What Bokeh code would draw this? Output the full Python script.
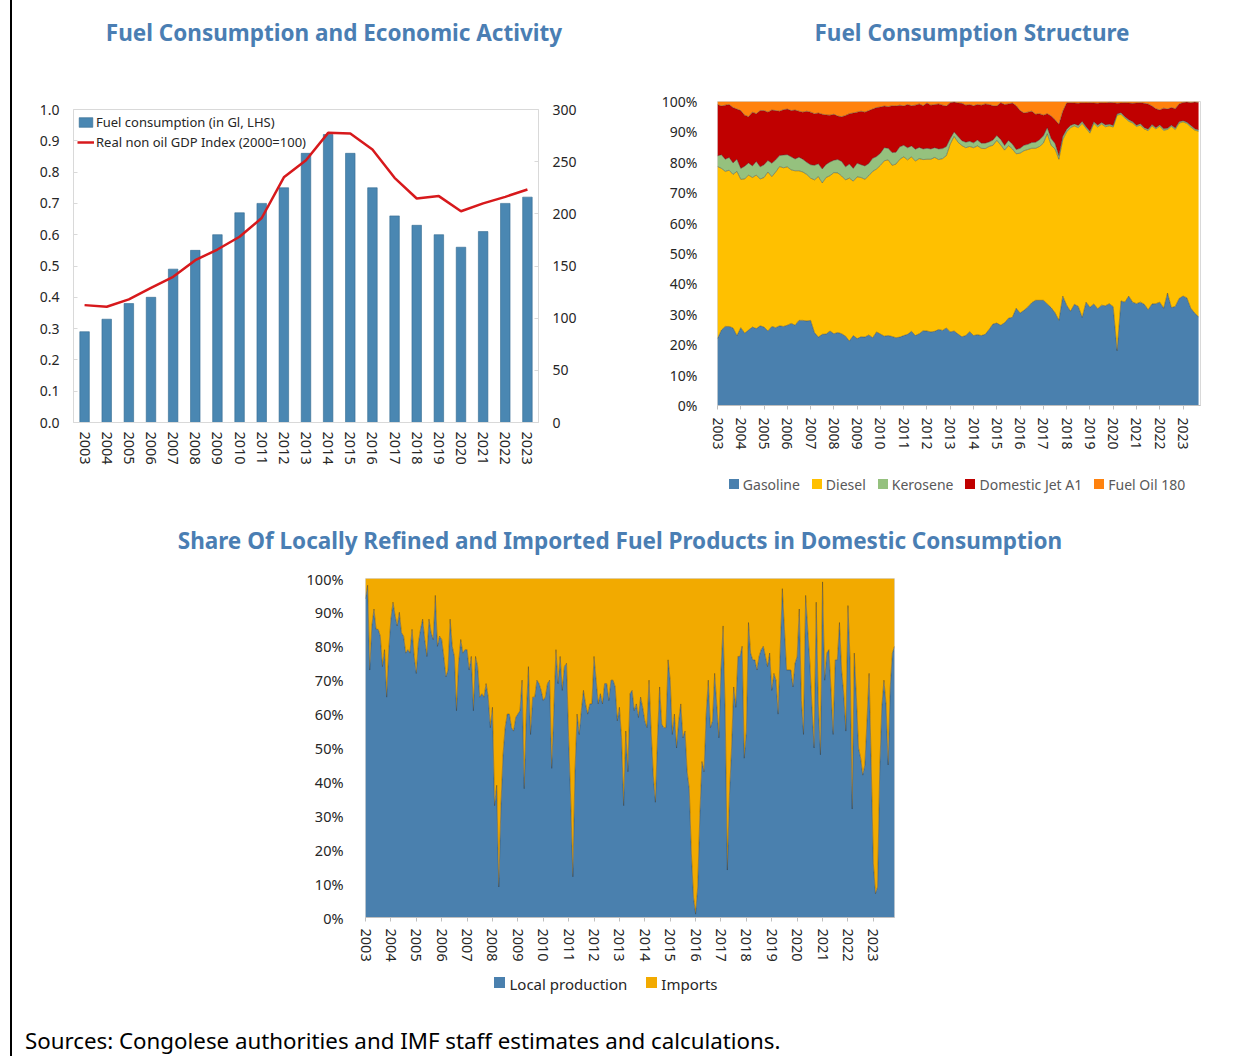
from bokeh.plotting import figure
from bokeh.models import (Range1d, LinearAxis, FixedTicker, Legend, LegendItem, Div, Spacer,
                          ColumnDataSource, PrintfTickFormatter)
from bokeh.layouts import row, column
from bokeh.embed import file_html
from bokeh.resources import INLINE

# ---------------- data: chart 1 (annual) ----------------
years = [str(y) for y in range(2003, 2024)]
fuel_consumption = [0.29, 0.33, 0.38, 0.40, 0.49, 0.55, 0.60, 0.67, 0.70, 0.75, 0.86,
                    0.92, 0.86, 0.75, 0.66, 0.63, 0.60, 0.56, 0.61, 0.70, 0.72]
gdp_index = [112.5, 111, 118, 129, 139.6, 155.6, 165.8, 178, 196, 235, 251.4,
             277.6, 277, 261.7, 234.5, 214.7, 217, 202.5, 210, 216.3, 223.3]
left_ticks = [0.0, 0.1, 0.2, 0.3, 0.4, 0.5, 0.6, 0.7, 0.8, 0.9, 1.0]
right_ticks = [0, 50, 100, 150, 200, 250, 300]

# ---------------- data: chart 2 (every 2 months, Jan 2003 - 2023, % shares) ----------------
structure_months = list(range(0, 249, 2))
gasoline = [22, 24.8, 26, 26, 25.5, 23,
            25.6, 23.8, 24.8, 25.8, 25.3, 26.2,
            25.8, 24.5, 26, 25.6, 26.2, 26,
            26.4, 27, 26.4, 28, 28, 27.8,
            28, 24, 22.5, 23.4, 23.5, 24.5,
            23.6, 24, 23.6, 22.8, 21.2, 23,
            22, 22.6, 22.5, 23.2, 22.3, 24.2,
            23.5, 22.8, 23, 22.7, 22.3, 22.5,
            23, 23.4, 24.4, 23, 23.6, 24.6,
            24.5, 24.2, 24.4, 25, 24.7, 25.5,
            24.2, 24.5, 23.5, 22.6, 23, 24.3,
            23, 23.3, 23, 23.4, 25, 26.8,
            27.1, 26.4, 27.2, 28.7, 29, 32,
            30.4, 31.3, 32.4, 33.8, 34.6, 34.6,
            34.6, 33.4, 32.2, 30.5, 28, 36,
            33, 31, 33.3, 32.6, 29, 34,
            32.3, 33.4, 31.8, 33, 32.8, 33.5,
            32.5, 18, 34.4, 34, 36, 34,
            33.5, 34, 33.3, 31.5, 33.4, 33.5,
            34, 32, 37, 32.2, 32.6, 35.2,
            36, 35.4, 32, 30.4, 29.2]
diesel = [56.6, 53.2, 51, 51.4, 50.5, 54,
          48.8, 50.7, 51, 49.2, 50.5, 48.3,
          49.2, 52.3, 49.3, 51.2, 52.4, 52.2,
          52.1, 50.5, 50.8, 49.2, 48.8, 48.2,
          46.8, 50.2, 52.8, 49.8, 51.5, 51.1,
          53, 52.5, 51.9, 51.4, 53.6, 50.8,
          53.2, 52.4, 51.9, 52.4, 54.7, 53.6,
          55.5, 57.7, 57.8, 56.3, 57.1, 58.5,
          58.8, 57.4, 57.4, 57.4, 57.6, 56.3,
          56.5, 56.8, 57.2, 55.9, 56.5, 56.7,
          61.8, 64, 63.1, 62.9, 61.8, 60.9,
          61.8, 62.1, 61.6, 61.1, 60.2, 58.8,
          60.1, 59.3, 56.8, 56.8, 55.4, 50.8,
          52.6, 52.5, 51.8, 50.8, 50, 50.6,
          51.7, 56, 53.4, 53.9, 53, 51.5,
          57, 60.4, 58.7, 58.8, 63.8, 57.2,
          57.3, 59.4, 59.8, 59.6, 58.9, 58.5,
          59.1, 77.5, 61.4, 60.6, 57.5, 58.9,
          58.3, 58.2, 57.7, 58.9, 58.6, 57.5,
          57.9, 58.5, 53.8, 59.6, 58.2, 57.7,
          57.3, 57.4, 59.6, 60.2, 61]
kerosene = [3.5, 4.5, 4, 4.2, 3.8, 4,
            3.6, 4.2, 4, 3.8, 4.5, 4,
            4.2, 3.8, 4.4, 4, 3.6, 4.2,
            4, 4.3, 3.9, 4.5, 4.2, 4,
            4.4, 4.8, 4.2, 4.6, 4.3, 4.5,
            4.1, 4.4, 4.8, 4.3, 4.6, 4.2,
            4.5, 4.2, 4.4, 4, 4.3, 4.1,
            4, 4.3, 3.8, 4.2, 3.9, 4.1,
            3.8, 4, 3.6, 3.9, 3.7, 3.5,
            3.6, 3.4, 3.2, 3.5, 3.3, 3,
            1.8, 1.5, 1.9, 1.6, 1.8, 1.7,
            1.6, 1.9, 1.7, 1.8, 1.5, 1.7,
            1.6, 1.8, 1.5, 1.7, 1.6, 1.4,
            1.6, 1.8, 1.7, 1.9, 2, 2.2,
            2.4, 2, 2.2, 1.8, 1.2, 1,
            0.8, 0.7, 0.6, 0.7, 0.6, 0.5,
            0.6, 0.5, 0.6, 0.5, 0.6, 0.5,
            0.5, 0.4, 0.5, 0.4, 0.5, 0.4,
            0.4, 0.5, 0.4, 0.5, 0.4, 0.4,
            0.4, 0.5, 0.4, 0.4, 0.5, 0.4,
            0.4, 0.4, 0.5, 0.4, 0.4]
jet_a1 = [16.9, 16, 17.8, 17.4, 18.2, 16.5,
          19, 16.8, 15.2, 17.7, 15.7, 18.5,
          17.8, 15.9, 17.5, 16.2, 14.6, 14.9,
          15, 15.2, 16.1, 15.1, 15.5, 16.8,
          17.3, 17, 16.7, 18, 16.3, 15.4,
          15.1, 14.3, 14.7, 16.9, 16.6, 18.2,
          16.8, 17.6, 17.7, 17.4, 16.2, 16.1,
          15.2, 13.7, 13.7, 15.4, 15.2, 13.7,
          12.9, 14.2, 13.2, 14.5, 14.3, 14.2,
          14.9, 14.4, 14.2, 14.8, 14.3, 13.3,
          11.8, 9.8, 11, 12.3, 12.2, 12.1,
          12.2, 11.7, 12.5, 12.9, 12.3, 11.3,
          9.7, 12.1, 13.5, 12, 13.5, 14.4,
          12.4, 10.6, 10.6, 10.3, 9.2, 8.6,
          6.8, 4.6, 7.4, 7.8, 10.3, 8.3,
          8.7, 7.5, 6.9, 7.3, 6.2, 7.8,
          9.4, 6.2, 7.2, 6.5, 7.2, 7.2,
          7.5, 3.5, 3.2, 4.6, 5.5, 6.1,
          7.3, 6.9, 8, 8.3, 6.1, 6.2,
          4.9, 6.8, 6.3, 5.8, 6.3, 5.9,
          6, 6.6, 7.5, 8.8, 9.1]
fuel_oil = [1, 1.5, 1.2, 1, 2, 2.5,
            3, 4.5, 5, 3.5, 4, 3,
            3, 3.5, 2.8, 3, 3.2, 2.7,
            2.5, 3, 2.8, 3.2, 3.5, 3.2,
            3.5, 4, 3.8, 4.2, 4.4, 4.5,
            4.2, 4.8, 5, 4.6, 4, 3.8,
            3.5, 3.2, 3.5, 3, 2.5, 2,
            1.8, 1.5, 1.7, 1.4, 1.5, 1.2,
            1.5, 1, 1.4, 1.2, 0.8, 1.4,
            0.5, 1.2, 1, 0.8, 1.2, 1.5,
            0.4, 0.2, 0.5, 0.6, 1.2, 1,
            1.4, 1, 1.2, 0.8, 1, 1.4,
            1.5, 0.4, 1, 0.8, 0.5, 1.4,
            3, 3.8, 3.5, 3.2, 4.2, 4,
            4.5, 4, 4.8, 6, 7.5, 3.2,
            0.5, 0.4, 0.5, 0.6, 0.4, 0.5,
            0.4, 0.5, 0.6, 0.4, 0.5, 0.3,
            0.4, 0.6, 0.5, 0.4, 0.5, 0.6,
            0.5, 0.4, 0.6, 0.8, 1.5, 2.4,
            2.8, 2.2, 2.5, 2, 2.4, 0.8,
            0.3, 0.2, 0.4, 0.2, 0.3]

# ---------------- data: chart 3 (monthly Jan 2003 - Nov 2023, % shares) ----------------
local_production = [
    94, 98, 73, 86, 91, 85, 85, 83, 74, 79, 65, 79,
    88, 93, 89, 86, 90, 84, 83, 78, 79, 78, 85, 77,
    72, 81, 85, 88, 82, 77, 88, 84, 82, 95, 80, 83,
    82, 77, 71, 73, 88, 80, 77, 61, 75, 82, 78, 79,
    79, 73, 77, 61, 77, 74, 65, 66, 65, 69, 65, 56,
    62, 33, 39, 9, 33, 48, 56, 60, 60, 56, 55, 59,
    60, 61, 70, 38, 60, 74, 54, 65, 65, 70, 69, 67,
    64, 65, 69, 70, 44, 61, 79, 69, 77, 67, 74, 75,
    53, 34, 12, 43, 60, 54, 61, 67, 63, 60, 63, 63,
    77, 70, 63, 66, 63, 69, 69, 64, 70, 70, 68, 58,
    62, 53, 33, 55, 43, 66, 67, 61, 63, 59, 65, 62,
    58, 56, 70, 55, 42, 34, 53, 68, 57, 56, 56, 76,
    70, 54, 60, 50, 58, 63, 53, 55, 43, 38, 19, 6,
    1, 9, 30, 46, 43, 60, 70, 56, 58, 72, 63, 53,
    73, 86, 60, 14, 36, 50, 68, 62, 77, 77, 80, 47,
    55, 87, 78, 76, 76, 73, 77, 79, 80, 77, 74, 78,
    67, 72, 70, 60, 79, 97, 85, 73, 73, 73, 68, 75,
    77, 91, 64, 54, 95, 85, 75, 62, 50, 93, 63, 48,
    99, 70, 78, 79, 67, 54, 76, 76, 87, 73, 66, 55,
    92, 76, 32, 78, 65, 50, 47, 42, 45, 58, 72, 45,
    16, 7, 9, 43, 62, 70, 63, 45, 68, 78, 80]
imports = [
    6, 2, 27, 14, 9, 15, 15, 17, 26, 21, 35, 21,
    12, 7, 11, 14, 10, 16, 17, 22, 21, 22, 15, 23,
    28, 19, 15, 12, 18, 23, 12, 16, 18, 5, 20, 17,
    18, 23, 29, 27, 12, 20, 23, 39, 25, 18, 22, 21,
    21, 27, 23, 39, 23, 26, 35, 34, 35, 31, 35, 44,
    38, 67, 61, 91, 67, 52, 44, 40, 40, 44, 45, 41,
    40, 39, 30, 62, 40, 26, 46, 35, 35, 30, 31, 33,
    36, 35, 31, 30, 56, 39, 21, 31, 23, 33, 26, 25,
    47, 66, 88, 57, 40, 46, 39, 33, 37, 40, 37, 37,
    23, 30, 37, 34, 37, 31, 31, 36, 30, 30, 32, 42,
    38, 47, 67, 45, 57, 34, 33, 39, 37, 41, 35, 38,
    42, 44, 30, 45, 58, 66, 47, 32, 43, 44, 44, 24,
    30, 46, 40, 50, 42, 37, 47, 45, 57, 62, 81, 94,
    99, 91, 70, 54, 57, 40, 30, 44, 42, 28, 37, 47,
    27, 14, 40, 86, 64, 50, 32, 38, 23, 23, 20, 53,
    45, 13, 22, 24, 24, 27, 23, 21, 20, 23, 26, 22,
    33, 28, 30, 40, 21, 3, 15, 27, 27, 27, 32, 25,
    23, 9, 36, 46, 5, 15, 25, 38, 50, 7, 37, 52,
    1, 30, 22, 21, 33, 46, 24, 24, 13, 27, 34, 45,
    8, 24, 68, 22, 35, 50, 53, 58, 55, 42, 28, 55,
    84, 93, 91, 57, 38, 30, 37, 55, 32, 22, 20]
share_months = list(range(len(local_production)))

year_ticks = list(range(0, 241, 12))
year_labels = {t: str(2003 + i) for i, t in enumerate(year_ticks)}
pct_ticks = [0, 10, 20, 30, 40, 50, 60, 70, 80, 90, 100]

# ---------------- style ----------------
FONT = "Noto Sans"
TXT = "#262626"
TITLE_C = "#4a7eb3"
BAR_C = "#4a87b2"
RED_C = "#d7191c"
COLS2 = ["#4a80ae", "#ffc000", "#95c17e", "#c00000", "#ff820e"]
COLS3 = ["#4a80ae", "#f2aa00"]
GRID_C = "#d9d9d9"


def base_fig(**kw):
    p = figure(output_backend="svg", toolbar_location=None, **kw)
    p.xgrid.grid_line_color = None
    p.ygrid.grid_line_color = None
    p.outline_line_color = GRID_C
    p.background_fill_color = "white"
    p.border_fill_color = "white"
    return p


def style_axis(ax, size="14px"):
    ax.major_label_text_font = FONT
    ax.major_label_text_font_size = size
    ax.major_label_text_color = TXT
    ax.minor_tick_line_color = None
    ax.axis_line_color = GRID_C
    ax.major_tick_line_color = GRID_C


# ---------------- chart 1 ----------------
# frame 465 x 313
p1 = base_fig(x_range=years, y_range=Range1d(0, 1), width=608, height=447,
              min_border_left=61, min_border_right=82, min_border_top=41, min_border_bottom=93)
p1.extra_y_ranges = {"gdp": Range1d(0, 300)}
bars = p1.vbar(x=years, top=fuel_consumption, width=0.43, fill_color=BAR_C,
               line_color="#336a90", line_width=0.6)
gline = p1.line(x=years, y=gdp_index, y_range_name="gdp", line_color=RED_C, line_width=2.5)
p1.yaxis.ticker = FixedTicker(ticks=left_ticks)
p1.yaxis.formatter = PrintfTickFormatter(format="%.1f")
rax = LinearAxis(y_range_name="gdp", ticker=FixedTicker(ticks=right_ticks))
p1.add_layout(rax, "right")
for ax in p1.yaxis:
    style_axis(ax)
    ax.major_tick_out = 0
    ax.major_tick_in = 4
    ax.axis_line_color = None
    ax.major_label_standoff = 14
style_axis(p1.xaxis[0], "14.5px")
p1.xaxis.major_label_orientation = "vertical"
p1.xaxis.major_tick_line_color = None
p1.xaxis.major_label_standoff = 3
leg1 = Legend(items=[LegendItem(label="Fuel consumption (in Gl, LHS)", renderers=[bars]),
                     LegendItem(label="Real non oil GDP Index (2000=100)", renderers=[gline])],
              location="top_left", margin=4, padding=1, spacing=2, glyph_width=17, glyph_height=12,
              label_height=17, label_standoff=2, border_line_color=None, background_fill_alpha=0,
              label_text_font=FONT, label_text_font_size="13px", label_text_color=TXT)
p1.add_layout(leg1)

# ---------------- chart 2 ----------------
# frame 483 x 304
p2 = base_fig(x_range=Range1d(0, 249), y_range=Range1d(0, 100), width=616, height=400,
              min_border_left=97, min_border_right=36, min_border_top=33, min_border_bottom=63)
src2 = ColumnDataSource(dict(m=structure_months, gasoline=gasoline, diesel=diesel,
                             kerosene=kerosene, jet=jet_a1, fuel_oil=fuel_oil))
stack2 = ["gasoline", "diesel", "kerosene", "jet", "fuel_oil"]
r2 = p2.varea_stack(stack2, x="m", color=COLS2, source=src2)
p2.vline_stack(stack2[:4], x="m", color="#333333", line_width=0.6, line_alpha=0.7, source=src2)
p2.xaxis.ticker = FixedTicker(ticks=year_ticks)
p2.xaxis.major_label_overrides = year_labels
p2.yaxis.ticker = FixedTicker(ticks=pct_ticks)
p2.yaxis.formatter = PrintfTickFormatter(format="%d%%")
style_axis(p2.xaxis[0])
style_axis(p2.yaxis[0])
p2.xaxis.axis_line_color = "#bfbfbf"
p2.xaxis.major_tick_line_color = "#bfbfbf"
p2.xaxis.major_tick_out = 4
p2.xaxis.major_tick_in = 0
p2.xaxis.major_label_orientation = "vertical"
p2.xaxis.major_label_standoff = 8
p2.yaxis.axis_line_color = None
p2.yaxis.major_tick_line_color = None
p2.yaxis.major_label_standoff = 14

# ---------------- chart 3 ----------------
# frame 529 x 339
p3 = base_fig(x_range=Range1d(0, 250), y_range=Range1d(0, 100), width=1224, height=410,
              min_border_left=353, min_border_right=342, min_border_top=13, min_border_bottom=58)
src3 = ColumnDataSource(dict(m=share_months, local=local_production, imports=imports))
r3 = p3.varea_stack(["local", "imports"], x="m", color=COLS3, source=src3)
p3.vline_stack(["local"], x="m", color="#333333", line_width=0.6, line_alpha=0.7, source=src3)
p3.xaxis.ticker = FixedTicker(ticks=year_ticks)
p3.xaxis.major_label_overrides = year_labels
p3.yaxis.ticker = FixedTicker(ticks=pct_ticks)
p3.yaxis.formatter = PrintfTickFormatter(format="%d%%")
style_axis(p3.xaxis[0], "14.5px")
style_axis(p3.yaxis[0], "14.5px")
p3.xaxis.axis_line_color = "#bfbfbf"
p3.xaxis.major_tick_line_color = "#bfbfbf"
p3.xaxis.major_tick_out = 4
p3.xaxis.major_tick_in = 0
p3.xaxis.major_label_orientation = "vertical"
p3.xaxis.major_label_standoff = 7
p3.yaxis.axis_line_color = None
p3.yaxis.major_tick_line_color = None
p3.yaxis.major_label_standoff = 16


# ---------------- titles, legends, source, frame line ----------------
def title_div(text, w, h, lh, pad_left=0, pad_right=0):
    html = (f'<div style="box-sizing:border-box;width:{w}px;padding-left:{pad_left}px;'
            f'padding-right:{pad_right}px;text-align:center;font-family:\'{FONT}\';font-weight:bold;'
            f'font-size:22.5px;color:{TITLE_C};line-height:{lh}px;white-space:nowrap">{text}</div>')
    return Div(text=html, width=w, height=h, margin=0)


def legend_div(names, colors, w, h, lh, size, color, sq, gap, pad_left=0, pad_right=0):
    parts = []
    for i, (n, c) in enumerate(zip(names, colors)):
        mr = 0 if i == len(names) - 1 else gap
        parts.append(f'<span style="display:inline-block;width:{sq}px;height:{sq}px;background:{c};'
                     f'vertical-align:middle;margin-right:4px;position:relative;top:-1px"></span>'
                     f'<span style="vertical-align:middle;margin-right:{mr}px">{n}</span>')
    html = (f'<div style="box-sizing:border-box;width:{w}px;padding-left:{pad_left}px;'
            f'padding-right:{pad_right}px;text-align:center;font-family:\'{FONT}\';font-size:{size}px;'
            f'color:{color};line-height:{lh}px;white-space:nowrap">{"".join(parts)}</div>')
    return Div(text=html, width=w, height=h, margin=0)


t1 = title_div("Fuel Consumption and Economic Activity", 608, 60, 50, pad_left=36)
t2 = title_div("Fuel Consumption Structure", 616, 60, 50, pad_left=88)
t3 = title_div("Share Of Locally Refined and Imported Fuel Products in Domestic Consumption",
               1224, 50, 52, pad_right=8)
leg2 = legend_div(["Gasoline", "Diesel", "Kerosene", "Domestic Jet A1", "Fuel Oil 180"], COLS2,
                  616, 47, 32, 14, "#595959", 10, 12, pad_left=58)
leg3 = legend_div(["Local production", "Imports"], COLS3, 1224, 40, 14, 15, TXT, 11, 19,
                  pad_right=36)
src_div = Div(text=(f'<div style="padding-top:14px;padding-left:13px;font-family:\'{FONT}\';'
                    f'font-size:22.3px;line-height:24px;color:#000;white-space:nowrap">'
                    'Sources: Congolese authorities and IMF staff estimates and calculations.</div>'),
              width=1224, height=40, margin=0)

row1 = row(column(t1, p1), column(t2, p2, leg2))
content = column(Spacer(width=1224, height=8, margin=0), row1, t3, p3, leg3, src_div)
bar_line = Div(text="", width=2, height=1056, margin=0, styles={"background-color": "#000000"})
root = row(Spacer(width=10, height=1056, margin=0), bar_line, content)

with open("out.html", "w", encoding="utf-8") as f:
    f.write(file_html(root, INLINE))
